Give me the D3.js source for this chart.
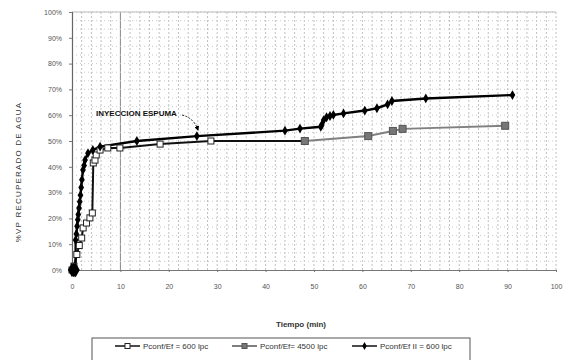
<!DOCTYPE html>
<html><head><meta charset="utf-8">
<script src="https://cdn.jsdelivr.net/npm/d3@7"></script>
<style>body{margin:0;background:#fff}svg{display:block;font-family:"Liberation Sans",Arial,sans-serif}</style>
</head><body><svg id="c" width="580" height="360"></svg>
<script>
// Data
const xTicks = [0,10,20,30,40,50,60,70,80,90,100];
const yTicks = [0,10,20,30,40,50,60,70,80,90,100];
const seriesNames = ["Pconf/Ef = 600 lpc","Pconf/Ef= 4500 lpc","Pconf/Ef II = 600 lpc"];
// Series 1: white squares
const s1Time = [0, 0.4, 1.0, 1.5, 2.0, 2.3, 3.0, 3.7, 4.2, 4.4, 4.75, 5.0, 5.8, 7.4, 9.9, 18.2, 28.7, 48.1];
const s1Val  = [0, 1.5, 6, 9.5, 12.4, 16.3, 18.2, 20.2, 22.1, 41.5, 42.6, 44.6, 46.5, 47.3, 47.3, 48.8, 50, 50];
// Series 2: grey squares
const s2Time = [48.1, 61.2, 66.3, 68.3, 89.5];
const s2Val  = [50, 51.9, 53.9, 54.7, 55.9];
// Series 3: black diamonds
const s3Time = [0, 0.3, 0.6, 0.75, 0.75, 0.9, 1.05, 1.2, 1.3, 1.45, 1.6, 1.75, 1.9, 2.05, 2.27, 2.5, 2.7, 3.3, 4.3, 5.8, 13.4, 25.8, 44, 47.1, 51.4, 51.6, 52.0, 52.6, 53.3, 54.0, 56.1, 60.5, 63, 65.2, 66.1, 73.1, 91];
const s3Val  = [0, 0, 0, 0, 11.6, 14, 17, 19.5, 21.5, 24, 26.5, 29, 32, 35, 38.8, 40.5, 42.6, 45.3, 46.5, 47.8, 50, 51.9, 54, 54.8, 55.5, 56.2, 58.1, 59.2, 59.7, 60.1, 60.7, 61.8, 62.7, 64.2, 65.5, 66.5, 67.8];

const svg = d3.select("#c");
const x = d3.scaleLinear().domain([0,100]).range([72,556]);
const y = d3.scaleLinear().domain([0,100]).range([270,12]);

// grid
const g = svg.append("g");
g.selectAll(".vg").data(d3.range(2,101,2)).join("line")
  .attr("x1",d=>x(d)).attr("x2",d=>x(d)).attr("y1",y(0)).attr("y2",y(100))
  .attr("stroke",d=>d===10?"#888":"#c0c0c0").attr("stroke-width",1)
  .attr("stroke-dasharray",d=>d===10?null:"2,2");
g.selectAll(".hg").data(d3.range(1,31).map(i=>i*10/3)).join("line")
  .attr("x1",x(0)).attr("x2",x(100)).attr("y1",d=>y(d)).attr("y2",d=>y(d))
  .attr("stroke","#cacaca").attr("stroke-width",1).attr("stroke-dasharray","1,3");
// top border
svg.append("line").attr("x1",x(0)).attr("x2",x(100)).attr("y1",y(100)).attr("y2",y(100)).attr("stroke","#bbb");

// axes
const xa = svg.append("g").attr("transform",`translate(0,${y(0)})`)
  .call(d3.axisBottom(x).tickValues(xTicks).tickSize(2).tickPadding(12).tickFormat(d3.format("d")));
xa.select(".domain").attr("stroke","#777");
xa.selectAll(".tick line").attr("stroke","#777");
xa.selectAll("text").attr("font-size",7).attr("fill","#555").attr("font-family","Liberation Sans, Arial, sans-serif");
const ya = svg.append("g").attr("transform",`translate(${x(0)},0)`)
  .call(d3.axisLeft(y).tickValues(yTicks).tickSize(3).tickPadding(7).tickFormat(d=>d+"%"));
ya.select(".domain").attr("stroke","#666").attr("stroke-width",1.2);
ya.selectAll(".tick line").attr("stroke","#777");
ya.selectAll("text").attr("font-size",7).attr("fill","#555").attr("font-family","Liberation Sans, Arial, sans-serif");

// titles
svg.append("text").attr("transform","translate(21,172) rotate(-90)").attr("text-anchor","middle")
  .attr("font-size",8).attr("letter-spacing",1.2).attr("fill","#333").text("%VP RECUPERADO DE AGUA");
svg.append("text").attr("x",301).attr("y",327).attr("text-anchor","middle")
  .attr("font-size",8).attr("font-weight","bold").attr("fill","#333").text("Tiempo (min)");

// lines
const line = d3.line().x(d=>x(d[0])).y(d=>y(d[1]));
const s1 = s1Time.map((t,i)=>[t,s1Val[i]]);
const s2 = s2Time.map((t,i)=>[t,s2Val[i]]);
const s3 = s3Time.map((t,i)=>[t,s3Val[i]]);
svg.append("path").datum(s1).attr("d",line).attr("fill","none").attr("stroke","#111").attr("stroke-width",2);
svg.append("path").datum(s3).attr("d",line).attr("fill","none").attr("stroke","#000").attr("stroke-width",2.4);
svg.selectAll(".m1").data(s1).join("rect")
  .attr("x",d=>x(d[0])-3).attr("y",d=>y(d[1])-3).attr("width",6).attr("height",6)
  .attr("fill","#fff").attr("stroke","#222").attr("stroke-width",1);
svg.append("path").datum(s2).attr("d",line).attr("fill","none").attr("stroke","#808080").attr("stroke-width",2);
svg.selectAll(".m2").data(s2).join("rect")
  .attr("x",d=>x(d[0])-3.5).attr("y",d=>y(d[1])-3.5).attr("width",7).attr("height",7)
  .attr("fill","#777").attr("stroke","#555").attr("stroke-width",1);
svg.selectAll(".m3").data(s3).join("path")
  .attr("d",d=>d3.symbol().type(d3.symbolDiamond).size(d[1]===0?60:28)())
  .attr("transform",d=>`translate(${x(d[0])},${y(d[1])})`).attr("fill","#000");

// annotation
svg.append("defs").append("marker").attr("id","ah").attr("viewBox","0 0 10 10").attr("refX",8).attr("refY",5)
  .attr("markerWidth",5).attr("markerHeight",5).attr("orient","auto")
  .append("path").attr("d","M0,0L10,5L0,10z").attr("fill","#000");
svg.append("text").attr("x",96).attr("y",116).attr("font-size",8).attr("font-weight","bold").attr("fill","#111").text("INYECCION ESPUMA");
svg.append("path").attr("d","M182,115 Q194,118 198,130").attr("fill","none").attr("stroke","#222")
  .attr("stroke-width",1).attr("stroke-dasharray","2,1.5").attr("marker-end","url(#ah)");

// legend
svg.append("rect").attr("x",92).attr("y",338).attr("width",378).attr("height",40).attr("fill","none").attr("stroke","#555");
const lg = [{x0:115,tx:143},{x0:232,tx:260},{x0:352,tx:380}];
const ly = 346;
lg.forEach((p,i)=>{
  svg.append("line").attr("x1",p.x0).attr("x2",p.x0+25).attr("y1",ly).attr("y2",ly)
    .attr("stroke",i===1?"#555":"#111").attr("stroke-width",1.5);
  if(i===0) svg.append("rect").attr("x",p.x0+10).attr("y",ly-2.5).attr("width",5).attr("height",5).attr("fill","#fff").attr("stroke","#222");
  if(i===1) svg.append("rect").attr("x",p.x0+10).attr("y",ly-2.5).attr("width",5).attr("height",5).attr("fill","#777").attr("stroke","#555");
  if(i===2) svg.append("path").attr("d",d3.symbol().type(d3.symbolDiamond).size(18)).attr("transform",`translate(${p.x0+12.5},${ly})`).attr("fill","#000");
  svg.append("text").attr("x",p.tx).attr("y",ly+3).attr("font-size",8).attr("fill","#333").text(seriesNames[i]);
});
</script></body></html>
